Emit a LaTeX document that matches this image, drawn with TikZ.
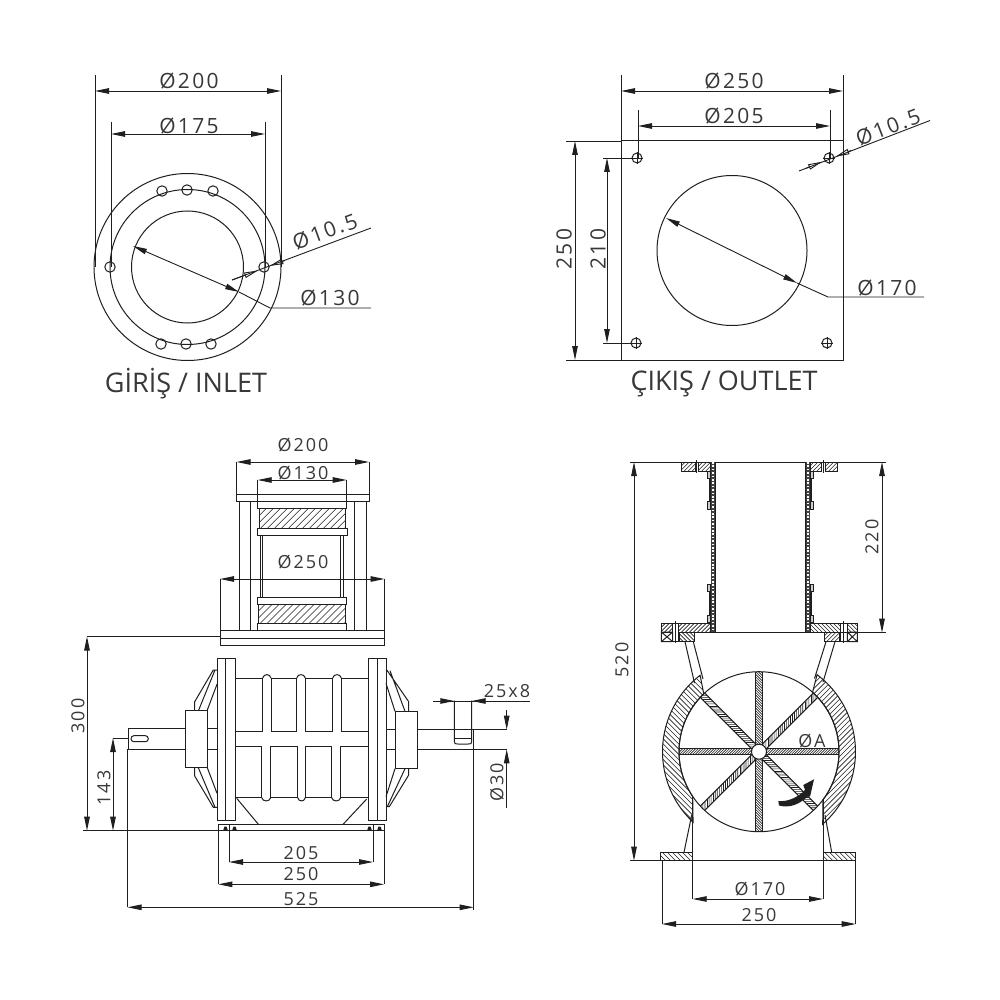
\documentclass[tikz,border=0pt]{standalone}
\usepackage{fontspec}
\setmainfont{Open Sans}
\newfontfamily\dimfont[LetterSpace=11]{Open Sans}
\usetikzlibrary{arrows.meta}
\definecolor{ink}{gray}{0.12}
\definecolor{txt}{gray}{0.22}
\newcommand{\hlines}[6]{%
  \pgfmathsetmacro\hH{#4-#2}\pgfmathsetmacro\hW{#3-#1}%
  \pgfmathsetmacro\hEnd{\hW+\hH}\pgfmathsetmacro\hNext{#5}%
  \foreach \hh in {0,\hNext,...,\hEnd}{%
    \ifnum#6=1
      \draw[hatchline] ({#1+\hh-\hH},#4) -- ({#1+\hh},#2);
    \else
      \draw[hatchline] ({#1+\hh-\hH},#2) -- ({#1+\hh},#4);
    \fi}}
\newcommand{\hatchbox}[6]{%
  \begin{scope}\clip (#1,#2) rectangle (#3,#4);\hlines{#1}{#2}{#3}{#4}{#5}{#6}\end{scope}%
  \draw[part] (#1,#2) rectangle (#3,#4);}
\newcommand{\casing}[5]{%
  \begin{scope}
    \clip plot[domain=#1:#2,samples=40] ({759+96.5*cos(\x)},{751.7-96.5*sin(\x)}) -- plot[domain=#3:#4,samples=40] ({759+80*cos(\x)},{751.7-80*sin(\x)}) -- cycle;
    \hlines{650}{660}{870}{840}{5.2}{#5}
  \end{scope}
  \draw[part] plot[domain=#1:#2,samples=40] ({759+96.5*cos(\x)},{751.7-96.5*sin(\x)}) -- plot[domain=#3:#4,samples=40] ({759+80*cos(\x)},{751.7-80*sin(\x)}) -- cycle;}
\tikzset{
  x=1pt,y=-1pt,
  part/.style={draw=ink,line width=1pt,line join=miter},
  hatchline/.style={draw=ink,line width=.6pt},
  dimline/.style={draw=ink,line width=.9pt},
  tip/.style={dimline,-{Triangle[length=14pt,width=5.5pt]}},
  both/.style={dimline,{Triangle[length=14pt,width=5.5pt]}-{Triangle[length=14pt,width=5.5pt]}},
  hollow/.style={dimline,-{Triangle[open,length=14pt,width=5.5pt]}},
  big/.style={font=\dimfont\fontsize{21}{21}\selectfont,text=txt,inner sep=0pt},
  small/.style={font=\dimfont\fontsize{18}{18}\selectfont,text=txt,inner sep=0pt},
  title/.style={font=\fontsize{27}{27}\selectfont,text=txt,inner sep=0pt}
}
\begin{document}
\begin{tikzpicture}
\useasboundingbox (0,0) rectangle (1000,1000);
\fill[white] (0,0) rectangle (1000,1000);

% ---- INLET ----
\draw[part] (187.5,267) circle[radius=93.5pt] (187.5,267) circle[radius=77.5pt] (187.5,267) circle[radius=56pt];
\foreach \p in {(110,267),(264,267),(162,191),(187,190),(213,191),(161,344),(186,344),(211,344)}
  \draw[part] \p circle[radius=5.2pt];
\draw[dimline] (95,75) -- (95,267) (281,75) -- (281,267) (111,122) -- (111,267) (265,122) -- (265,267);
\draw[both] (95,91) -- (281,91);
\draw[both] (111,134) -- (265,134);
\node[big] (t200a) at (189,81) {Ø200};
\node[big] (t175) at (189,126) {Ø175};
\draw[both] (133,246) -- (239,292);
\draw[dimline] (239,292) -- (270,308) -- (371,308);
\node[big] (t130a) at (330,298) {Ø130};
\draw[dimline] (232,280) -- (371,228);
\draw[hollow] (232,280) -- (258,270.5);
\draw[hollow] (285,260.5) -- (269.5,266);
\node[big,rotate=20] (t105a) at (325,231.5) {Ø10.5};
\node[title] (inlet) at (186,384) {GİRİŞ / INLET};

% ---- OUTLET ----
\draw[part] (621,141) rectangle (843,360);
\draw[part] (732,250.5) circle[radius=75pt];
\foreach \p in {(637,158),(829,158),(636,343),(827,343)}{
  \draw[part] \p circle[radius=5pt];
  \draw[dimline] \p ++(-6,0) -- ++(12,0) \p ++(0,-6) -- ++(0,12);}
\draw[dimline] (621,75) -- (621,141) (843,75) -- (843,141) (638,110) -- (638,158) (830,110) -- (830,158);
\draw[both] (621,91) -- (843,91);
\draw[both] (638,126) -- (830,126);
\node[big] (t250a) at (734,81) {Ø250};
\node[big] (t205a) at (734,116) {Ø205};
\draw[dimline] (566,141) -- (621,141) (566,360) -- (621,360) (603,158) -- (637,158) (603,343) -- (636,343);
\draw[both] (575,141) -- (575,360);
\draw[both] (607,158) -- (607,343);
\node[big,rotate=90] (t250b) at (564,249) {250};
\node[big,rotate=90] (t210) at (598,249) {210};
\draw[both] (666,218) -- (797,283);
\draw[dimline] (797,283) -- (828,297) -- (924,297);
\node[big] (t170a) at (887,288) {Ø170};
\draw[dimline] (799,171) -- (930,120.5);
\draw[hollow] (806,168.3) -- (822,161.7);
\draw[hollow] (851,150.5) -- (835.5,156.7);
\node[big,rotate=21] (t105b) at (888,127.5) {Ø10.5};
\node[title] (outlet) at (724,384) {ÇIKIŞ / OUTLET};

% ---- LOWER LEFT: upper assembly ----
\draw[part] (236.5,494) rectangle (369,501.5);
\draw[part] (239,501.5) rectangle (250.7,630) (354.3,501.5) rectangle (366,630);
\draw[part] (257.7,501.5) rectangle (346.7,508.3);
\hatchbox{259.5}{508.3}{345}{528}{7}{1}
\draw[part] (257.7,528) rectangle (347,535);
\draw[part] (260,535) rectangle (262.3,597.7) (340.7,535) rectangle (343.7,597.7);
\draw[part] (257,597.7) rectangle (346.5,604);
\hatchbox{258.5}{604}{345}{623}{7}{1}
\draw[part] (257,623) rectangle (346.5,630);
\draw[part] (220,630) rectangle (384.5,645.7) (220,638) -- (384.5,638);
\draw[dimline] (236.5,462) -- (236.5,494) (369,462) -- (369,494) (257.7,480) -- (257.7,501.5) (346.7,480) -- (346.7,501.5) (220,579) -- (220,630) (384.5,579) -- (384.5,630);
\draw[both] (236.5,462) -- (369,462);
\draw[both] (257.7,480) -- (346.7,480);
\draw[both] (220,579) -- (384.5,579);
\node[small] (t200b) at (303,445) {Ø200};
\node[small] (t130b) at (303,473) {Ø130};
\node[small] (t250c) at (303,562) {Ø250};

% ---- LOWER LEFT: drum ----
\draw[part] (217,658) rectangle (235.3,820.7) (225.7,658) -- (225.7,820.7);
\draw[part] (368.3,658) rectangle (386,820.7) (377.3,658) -- (377.3,820.7);
\foreach \a/\b in {235.3/262.7,271/296.7,305.3/332.7,341.3/368.3}
  \draw[part] (\a,678) rectangle (\b,731);
\foreach \a/\b in {235.3/261.7,270.7/297.7,305.3/331.7,340.7/368.3}
  \draw[part] (\a,746.7) rectangle (\b,797.7);
\foreach \a/\b in {262.7/271,296.7/305.3,332.7/341.3}
  \draw[part] (\a,678) .. controls (\a+1,673.5) and (\b-1,673.5) .. (\b,678);
\foreach \a/\b in {261.7/270.7,297.7/305.3,331.7/340.7}
  \draw[part] (\a,797.7) .. controls (\a+1,802) and (\b-1,802) .. (\b,797.7);
% shafts and hubs
\draw[part] (185,728.7) -- (128,728.7) -- (128,749.3) -- (185,749.3);
\draw[part] (207.3,728.7) -- (217,728.7) (207.3,749.3) -- (217,749.3);
\draw[part] (185.3,710) rectangle (207.3,767.7);
\draw[part,rounded corners=2.9pt] (131,735.7) rectangle (148.3,741.7);
\draw[part] (217,670) -- (213.3,670) -- (194.7,701.7) -- (194.7,710) (215,670) -- (198.7,710) (217,684.3) -- (207.3,710);
\draw[part] (194.7,767.7) -- (194.7,776) -- (213.3,807.3) -- (217,807.3) (198.3,767.7) -- (215,807.3) (207.3,767.7) -- (217,793.3);
\draw[part] (395,711.3) rectangle (417,768.7);
\draw[part] (386,729.7) -- (395,729.7) (386,749.3) -- (395,749.3);
\draw[part] (386,670.7) -- (387.3,670.7) -- (408.7,701.7) -- (408.7,711.3) (390,670.7) -- (405,711.3) (386,683.3) -- (395,711.3);
\draw[part] (408.7,768.7) -- (408.7,775) -- (389.3,806.7) -- (386,806.7) (405,768.7) -- (387.3,806.7) (395,768.7) -- (386,796.7);
\draw[part] (417,729.7) -- (507,729.7) (417,749.3) -- (507,749.3);
\draw[part] (454.3,700.7) -- (454.3,741) .. controls (454.3,744) and (455,744) .. (458,744) -- (468,744) .. controls (471,744) and (471.7,744) .. (471.7,741) -- (471.7,700.7);
\draw[part] (454.3,738) -- (471.7,738);
\draw[dimline] (433,701) -- (530,701);
\draw[tip] (433,701) -- (454.3,701);
\draw[tip] (495,701) -- (471.7,701);
\node[small] (t25x8) at (507,691.5) {25x8};
\draw[tip] (506.7,710) -- (506.7,729.7);
\draw[tip] (506.7,808) -- (506.7,749.3);
\node[small,rotate=90] (t30) at (497,782) {Ø30};
% chute and base
\draw[part] (236.7,798.3) -- (258.7,824.7) (366.7,799) -- (342.7,824.7);
\draw[part] (218.3,830.7) -- (218.3,824.7) -- (384,824.7) -- (384,830.7);
\foreach \a in {223,232,367,377}
  \fill[ink] (\a,830.7) -- (\a+1.5,826.5) -- (\a+3.5,826.5) -- (\a+5,830.7) -- cycle;
% dims
\draw[dimline] (87,636.5) -- (220,636.5) (83,830.7) -- (384,830.7) (113,738) -- (128,738);
\draw[both] (87,636.5) -- (87,830.7);
\draw[both] (113,738) -- (113,830.7);
\node[small,rotate=90] (t300) at (78,716) {300};
\node[small,rotate=90] (t143) at (104,788) {143};
\draw[dimline] (127.5,749) -- (127.5,907) (473.7,730) -- (473.7,910) (218.3,830) -- (218.3,884) (384,830) -- (384,884) (229,825) -- (229,862) (373,825) -- (373,862);
\draw[both] (229,862) -- (373,862);
\draw[both] (218.3,884.3) -- (384,884.3);
\draw[both] (127.5,907.3) -- (473.7,907.3);
\node[small] (t205b) at (301,853) {205};
\node[small] (t250d) at (301,874) {250};
\node[small] (t525) at (301,899) {525};

% ---- RIGHT VIEW: tube ----
\draw[dimline] (630,462) -- (886,462) (710,632.7) -- (886,632.7) (630,860.7) -- (855.7,860.7);
\draw[part] (715,462) -- (715,632) (805.7,462) -- (805.7,632);
\foreach \xa/\xb in {710.7/715,805.7/810}{
  \fill[ink!85] (\xa,462) rectangle (\xb,632);
  \draw[white,line width=1.6pt,dash pattern=on 1.6pt off 1.8pt] ({(\xa+\xb)/2},462) -- ({(\xa+\xb)/2},632);}
\hatchbox{681.3}{462}{695}{471}{4}{1}
\hatchbox{698.7}{462}{710.7}{471}{4}{1}
\hatchbox{810}{462}{821.7}{471}{4}{1}
\hatchbox{825.7}{462}{837.7}{471}{4}{1}
\draw[part] (696.8,460) -- (696.8,473) (823.7,460) -- (823.7,473);
\foreach \ya/\yb in {471/478.3,501.7/509.3,584.3/591.7,615/622.7}{
  \draw[part,fill=gray!40] (707.7,\ya) rectangle (710.7,\yb);
  \draw[part,fill=gray!40] (810,\ya) rectangle (813,\yb);}
\draw[line width=1.6pt,ink] (709.7,478) -- (709.7,502) (709.7,591) -- (709.7,615) (810.8,478) -- (810.8,502) (810.8,591) -- (810.8,615);
% lower flange
\hatchbox{661.3}{623.3}{672.7}{632}{4}{1}
\hatchbox{678.3}{623.3}{710.7}{632}{4}{1}
\hatchbox{810}{623.3}{840}{632}{4}{-1}
\hatchbox{847.3}{623.3}{857.3}{632}{4}{-1}
\draw[part] (661.3,632) rectangle (672.7,641.7) (661.3,641.7) -- (672.7,632) (661.3,632) -- (672.7,641.7);
\draw[part] (847.3,632) rectangle (857.3,641.7) (847.3,641.7) -- (857.3,632) (847.3,632) -- (857.3,641.7);
\draw[part] (672.7,623.3) rectangle (678.3,641.7) (675.5,621) -- (675.5,643);
\draw[part] (840,623.3) rectangle (847.3,641.7) (843.6,621) -- (843.6,643);
\hatchbox{679.3}{632}{694.3}{641.7}{4}{-1}
\hatchbox{824.3}{632}{839}{641.7}{4}{1}
\draw[line width=1.4pt,ink] (710.7,632.5) -- (810,632.5);
% legs
\draw[part] (685,641.7) -- (694.5,683) (693.3,641.7) -- (703,679);
\draw[part] (826,641.7) -- (814.5,678.5) (835,641.7) -- (823,682);
\draw[part] (691.7,815) -- (684,852.3) (825,815) -- (831.7,852.3);

% ---- RIGHT VIEW: casing and rotor ----
\casing{127.6}{226.9}{214}{133.7}{-1}
\casing{-48.7}{53}{48}{-36.9}{1}
\begin{scope}
  \clip (759,751.7) circle[radius=80pt];
  \foreach \a in {0,90,180,270}{
    \begin{scope}[shift={(759,751.7)},rotate=\a]
      \hatchbox{7}{-3.1}{84}{3.1}{2.6}{1}
    \end{scope}}
  \foreach \a in {45,135,225,315}{
    \begin{scope}[shift={(759,751.7)},rotate=\a]
      \hatchbox{7}{-3.1}{84}{3.1}{2.9}{1}
    \end{scope}}
\end{scope}
\draw[part] (759,751.7) circle[radius=80pt];
\draw[part,fill=white] (759,751.7) circle[radius=7.5pt];
\draw[part] (692.7,797) -- (692.7,899) (823,799) -- (823,899);
\hatchbox{660.7}{852.3}{692.7}{860.7}{5}{-1}
\hatchbox{823}{852.3}{855.7}{860.7}{5}{-1}
\draw[dimline] (662,860.7) -- (662,924) (855.7,860.7) -- (855.7,924);
\draw[both] (692.7,899) -- (823,899);
\draw[both] (662,924) -- (855.7,924);
\draw[both] (634,462) -- (634,860.7);
\draw[both] (882,462) -- (882,632.7);
\node[small] (t170b) at (760,889) {Ø170};
\node[small] (t250e) at (759,915) {250};
\node[small,rotate=90] (t220) at (872,537) {220};
\node[small,rotate=90] (t520) at (622,660) {520};
\node[small] (tA) at (812,741) {ØA};
\fill[ink] (778.3,801) .. controls (787,802) and (797,798) .. (805,790) -- (803.3,785) -- (814,779.3) -- (810,796.7) -- (808,796) .. controls (800,804) and (790,808.5) .. (779,805.5) -- cycle;
\end{tikzpicture}
\end{document}
